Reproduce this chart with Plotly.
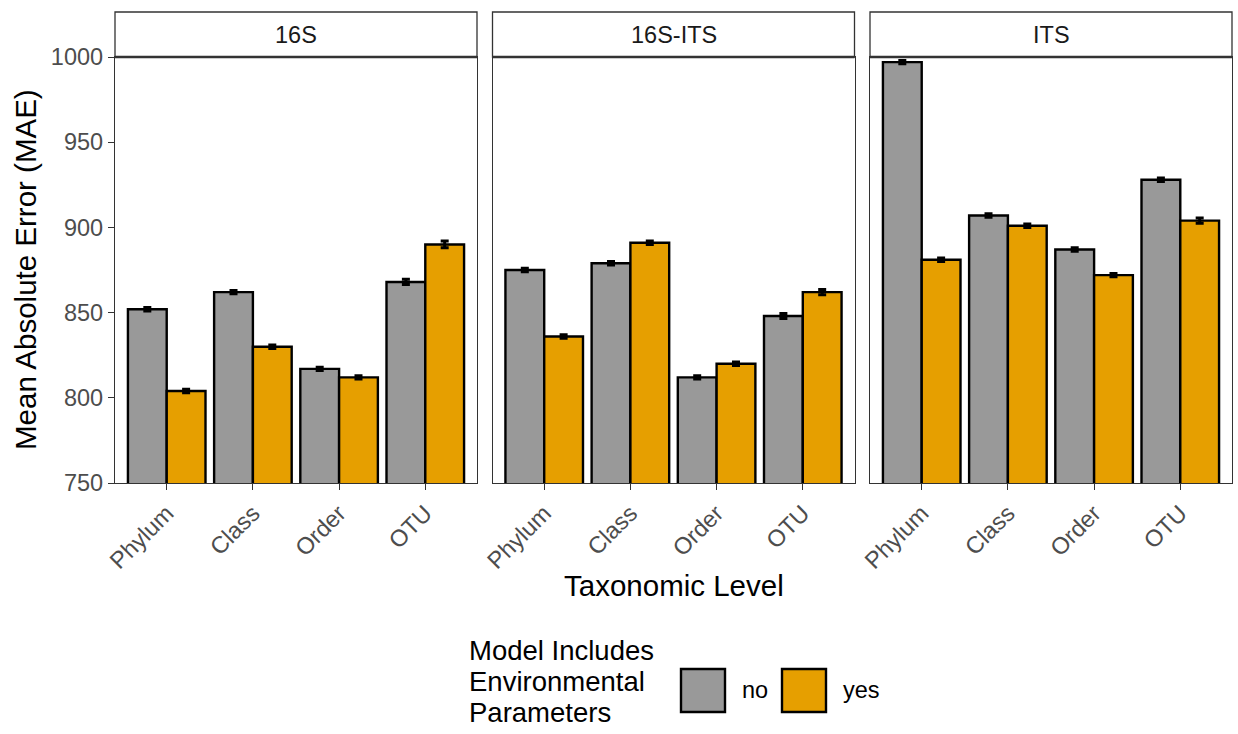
import plotly.graph_objects as go

# ---- data ----
levels = ["Phylum", "Class", "Order", "OTU"]
facets = ["16S", "16S-ITS", "ITS"]

mae_no = {
    "16S": [852, 862, 817, 868],
    "16S-ITS": [875, 879, 812, 848],
    "ITS": [997, 907, 887, 928],
}
mae_yes = {
    "16S": [804, 830, 812, 890],
    "16S-ITS": [836, 891, 820, 862],
    "ITS": [881, 901, 872, 904],
}
err_no = {
    "16S": [1.0, 1.0, 1.0, 1.5],
    "16S-ITS": [1.0, 1.0, 1.0, 1.5],
    "ITS": [1.0, 1.0, 1.0, 1.0],
}
err_yes = {
    "16S": [1.0, 1.0, 1.0, 2.0],
    "16S-ITS": [1.0, 1.0, 1.0, 1.5],
    "ITS": [1.0, 1.0, 1.0, 1.5],
}
y_ticks = [750, 800, 850, 900, 950, 1000]
legend_labels = ["no", "yes"]
legend_title_lines = ["Model Includes", "Environmental", "Parameters"]

# ---- style ----
W, H = 1238, 734
ML, MR, MT, MB = 115, 6, 57, 251
PW = W - ML - MR
PH = H - MT - MB
FONT = "Liberation Sans, Arial, sans-serif"
C_NO = "#999999"
C_YES = "#E69F00"
FRAME = "#333333"
TICKC = "#4d4d4d"
TICK_SIZE = 23.5
TITLE_SIZE = 29.5
LEG_TITLE_SIZE = 27.5

def px_x(p):
    return (p - ML) / PW

def px_y(p):
    return (H - MB - p) / PH

domains = [
    [0.0, px_x(477)],
    [px_x(492.5), px_x(854.5)],
    [px_x(870), 1.0],
]

fig = go.Figure()
for i, f in enumerate(facets):
    ax = "" if i == 0 else str(i + 1)
    for vals, errs, col, name in [
        (mae_no[f], err_no[f], C_NO, "no"),
        (mae_yes[f], err_yes[f], C_YES, "yes"),
    ]:
        fig.add_trace(go.Bar(
            x=levels, y=vals, name=name, offsetgroup=name,
            xaxis="x" + ax, yaxis="y" + ax,
            marker=dict(color=col, line=dict(color="black", width=2.4)),
            error_y=dict(type="data", array=errs, color="black",
                         thickness=3, width=4),
            showlegend=False,
        ))

layout = dict(
    width=W, height=H,
    margin=dict(l=ML, r=MR, t=MT, b=MB, pad=0),
    paper_bgcolor="white", plot_bgcolor="white",
    barmode="group", bargap=0.1, bargroupgap=0.0,
    font=dict(family=FONT, size=22, color="black"),
    showlegend=False,
)

for i, f in enumerate(facets):
    ax = "" if i == 0 else str(i + 1)
    layout["xaxis" + ax] = dict(
        domain=domains[i], anchor="y" + ax,
        type="category", categoryorder="array", categoryarray=levels,
        range=[-0.6, 3.6],
        showline=True, mirror=True, linecolor=FRAME, linewidth=1.3,
        showgrid=False, zeroline=False,
        ticks="outside", ticklen=6, tickcolor=FRAME, tickwidth=1.3,
        tickangle=-45,
        tickfont=dict(family=FONT, size=TICK_SIZE, color=TICKC),
    )
    layout["yaxis" + ax] = dict(
        domain=[0, 1], anchor="x" + ax,
        range=[750, 1000],
        showline=True, mirror=True, linecolor=FRAME, linewidth=1.3,
        showgrid=False, zeroline=False,
        tickvals=y_ticks,
        ticks="outside" if i == 0 else "", ticklen=6, tickcolor=FRAME, tickwidth=1.3,
        showticklabels=(i == 0),
        tickfont=dict(family=FONT, size=TICK_SIZE, color=TICKC),
    )

shapes = []
annotations = []
strip_top = px_y(12)
for i, f in enumerate(facets):
    shapes.append(dict(
        type="rect", xref="paper", yref="paper",
        x0=domains[i][0], x1=domains[i][1], y0=1.0, y1=strip_top,
        line=dict(color=FRAME, width=1.3), fillcolor="white", layer="above",
    ))
    shapes.append(dict(
        type="line", xref="paper", yref="paper",
        x0=domains[i][0], x1=domains[i][1], y0=1.0, y1=1.0,
        line=dict(color=FRAME, width=2.4), layer="above",
    ))
    annotations.append(dict(
        text=f, xref="paper", yref="paper",
        x=(domains[i][0] + domains[i][1]) / 2, y=px_y(35),
        xanchor="center", yanchor="middle", showarrow=False,
        font=dict(family=FONT, size=TICK_SIZE, color="#1a1a1a"),
    ))

# axis titles
annotations.append(dict(
    text="Taxonomic Level", xref="paper", yref="paper",
    x=px_x(673.5), y=px_y(585), xanchor="center", yanchor="middle",
    showarrow=False, font=dict(family=FONT, size=TITLE_SIZE, color="black"),
))
annotations.append(dict(
    text="Mean Absolute Error (MAE)", xref="paper", yref="paper",
    x=px_x(25), y=px_y(270), xanchor="center", yanchor="middle",
    textangle=-90, showarrow=False,
    font=dict(family=FONT, size=TITLE_SIZE, color="black"),
))

# legend (manual)
for line, yc in zip(legend_title_lines, [650, 681, 712]):
    annotations.append(dict(
        text=line, xref="paper", yref="paper",
        x=px_x(467), y=px_y(yc), xanchor="left", yanchor="middle",
        showarrow=False, font=dict(family=FONT, size=LEG_TITLE_SIZE, color="black"),
    ))
for lab, col, kx, tx in zip(legend_labels, [C_NO, C_YES], [681, 782], [740, 841]):
    shapes.append(dict(
        type="rect", xref="paper", yref="paper",
        x0=px_x(kx), x1=px_x(kx + 44), y0=px_y(712), y1=px_y(669),
        line=dict(color="black", width=2.4), fillcolor=col,
    ))
    annotations.append(dict(
        text=lab, xref="paper", yref="paper",
        x=px_x(tx), y=px_y(690), xanchor="left", yanchor="middle",
        showarrow=False, font=dict(family=FONT, size=TICK_SIZE, color="black"),
    ))

layout["shapes"] = shapes
layout["annotations"] = annotations
fig.update_layout(**layout)
fig.write_html("out.html")
